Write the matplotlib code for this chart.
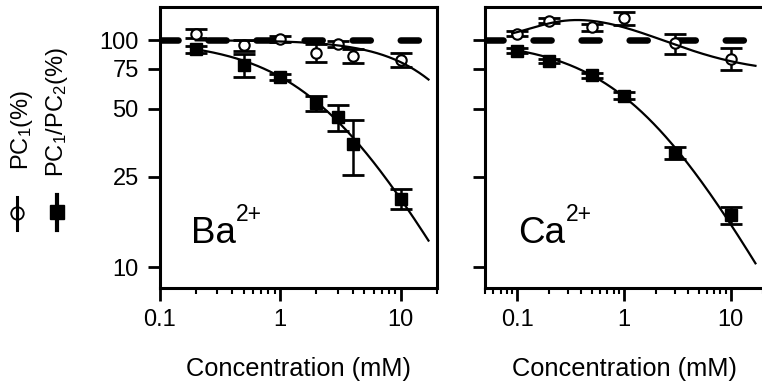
import numpy as np
import matplotlib
matplotlib.use('Agg')
import matplotlib.pyplot as plt
from matplotlib.lines import Line2D
from matplotlib.ticker import FixedLocator, LogLocator, NullFormatter

plt.rcParams['font.family'] = ['Liberation Sans', 'DejaVu Sans']
plt.rcParams['mathtext.fontset'] = 'custom'
plt.rcParams['mathtext.rm'] = 'Liberation Sans'
plt.rcParams['mathtext.it'] = 'Liberation Sans:italic'
plt.rcParams['mathtext.default'] = 'regular'
plt.rcParams['lines.scale_dashes'] = False

# ---------------- data ----------------
ba_conc = [0.2, 0.5, 1, 2, 3, 4, 10]
ba_pc1 = [107, 95, 101, 88, 96, 85, 82]
ba_pc1_err = [5, 5, 3, 8, 3, 6, 6]
ba_ratio = [91, 78, 69, 53, 46, 35, 20]
ba_ratio_err = [3, 9, 2, 4, 6, 9.5, 2]

ca_conc = [0.1, 0.2, 0.5, 1, 3, 10]
ca_pc1 = [107, 122, 114, 125, 97, 83]
ca_pc1_err = [3, 3, 4, 8, 10, 9]
ca_ratio = [90, 81, 70, 57, 32, 17]
ca_ratio_err = [2, 2, 2, 2, 2, 1.5]

control_level = 100

# fitted model parameters (curves)
ba_ratio_fit = dict(K=2.32, n=0.95)
ba_pc1_fit = dict(K=29.8, n=1.27)
ca_ratio_fit = dict(K=1.35, n=0.85)
ca_pc1_fit = dict(a=0.42, Ka=0.16, c=0.5, Ki=1.6)

y_ticks = [10, 25, 50, 75, 100]
y_tick_labels = ['10', '25', '50', '75', '100']
x_ticks = [0.1, 1, 10]
x_tick_labels = ['0.1', '1', '10']


def hill(x, K, n):
    return control_level / (1 + (x / K) ** n)


def biphasic(x, a, Ka, c, Ki):
    return control_level * (1 + a * x ** 2 / (x ** 2 + Ka ** 2)) * (1 - c * x / (x + Ki))


W, H = 762, 386
fig = plt.figure(figsize=(W / 100, H / 100), dpi=100)

def fx(px):
    return px / W

def fy(py):
    return 1 - py / H

ax1 = fig.add_axes([fx(159.5), fy(288), 277.5 / W, 281 / H])
ax2 = fig.add_axes([fx(485), fy(288), 278 / W, 281 / H])

FS = 17

for ax, xlim in ((ax1, (0.1, 20)), (ax2, (0.05, 20))):
    ax.set_xscale('log')
    ax.set_yscale('log')
    ax.set_xlim(*xlim)
    ax.set_ylim(8.1, 140)
    ax.yaxis.set_major_locator(FixedLocator(y_ticks))
    ax.yaxis.set_minor_locator(FixedLocator([]))
    ax.xaxis.set_minor_locator(LogLocator(base=10, subs=np.arange(2, 10)))
    ax.xaxis.set_minor_formatter(NullFormatter())
    ax.set_xticks(x_ticks)
    ax.set_xticklabels(x_tick_labels)
    ax.tick_params(which='major', direction='out', length=9, width=2, labelsize=FS, pad=6)
    ax.tick_params(which='minor', direction='out', length=4, width=1.5)
    for s in ax.spines.values():
        s.set_linewidth(2.2)
    ax.set_xlabel('Concentration (mM)', fontsize=18.3, labelpad=19)
    ax.axhline(control_level, color='k', lw=4.7, dashes=(13, 21.6),
               dash_capstyle='round', zorder=2.5)

ax1.set_yticklabels(y_tick_labels)
ax2.set_yticklabels([])

eb_kw = dict(fmt='none', ecolor='k', elinewidth=1.8, capsize=8, capthick=2, zorder=2)

# Ba panel
ax1.errorbar(ba_conc, ba_pc1, yerr=ba_pc1_err, **eb_kw)
ax1.errorbar(ba_conc, ba_ratio, yerr=ba_ratio_err, **eb_kw)
ax1.plot(ba_conc, ba_pc1, 'o', ms=7.5, mfc='white', mec='k', mew=1.5, zorder=3, ls='none')
ax1.plot(ba_conc, ba_ratio, 's', ms=9, mfc='k', mec='k', zorder=3, ls='none')
xb1 = np.logspace(np.log10(0.2), np.log10(17), 200)
ax1.plot(xb1, hill(xb1, **ba_pc1_fit), color='k', lw=1.6, zorder=4)
ax1.plot(xb1, hill(xb1, **ba_ratio_fit), color='k', lw=1.6, zorder=4)

# Ca panel
ax2.errorbar(ca_conc, ca_pc1, yerr=ca_pc1_err, **eb_kw)
ax2.errorbar(ca_conc, ca_ratio, yerr=ca_ratio_err, **eb_kw)
ax2.plot(ca_conc, ca_pc1, 'o', ms=7.5, mfc='white', mec='k', mew=1.5, zorder=3, ls='none')
ax2.plot(ca_conc, ca_ratio, 's', ms=9, mfc='k', mec='k', zorder=3, ls='none')
xc1 = np.logspace(np.log10(0.09), np.log10(17), 200)
ax2.plot(xc1, biphasic(xc1, **ca_pc1_fit), color='k', lw=1.6, zorder=4)
xc2 = np.logspace(np.log10(0.1), np.log10(17), 200)
ax2.plot(xc2, hill(xc2, **ca_ratio_fit), color='k', lw=1.6, zorder=4)

# ion labels with superscript charge
for ax, ion, xpos in ((ax1, 'Ba', 0.113), (ax2, 'Ca', 0.119)):
    t = ax.text(xpos, 0.16, ion, transform=ax.transAxes, fontsize=26.5,
                ha='left', va='baseline')
    ax.annotate('2+', xy=(1, 0.16), xycoords=(t, 'axes fraction'), xytext=(0.3, 16),
                textcoords='offset points', fontsize=16.5, ha='left', va='baseline')

# Legend (rotated, at left)
fig.text(fx(22), fy(170), r'PC$_1$(%)', rotation=90, ha='center', va='bottom', fontsize=FS)
fig.text(fx(57), fy(177), r'PC$_1$/PC$_2$(%)', rotation=90, ha='center', va='bottom', fontsize=FS)
fig.add_artist(Line2D([fx(17), fx(17)], [fy(197), fy(230)], transform=fig.transFigure,
                      color='k', lw=2.2))
fig.add_artist(Line2D([fx(17)], [fy(213)], transform=fig.transFigure, marker='o', ms=9,
                      mfc='none', mec='k', mew=1.3, ls='none'))
fig.add_artist(Line2D([fx(57), fx(57)], [fy(195), fy(230)], transform=fig.transFigure,
                      color='k', lw=3))
fig.add_artist(Line2D([fx(57)], [fy(212)], transform=fig.transFigure, marker='s', ms=10,
                      mfc='k', mec='k', ls='none'))

fig.savefig('out.png', dpi=100)
